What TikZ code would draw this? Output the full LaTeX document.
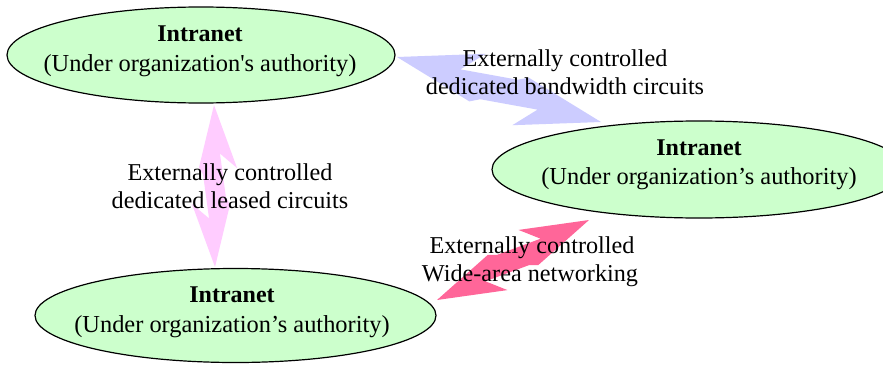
\documentclass[tikz,border=0pt]{standalone}
\usepackage{fontspec}
\setmainfont{Liberation Serif}
\usetikzlibrary{calc,shapes.geometric}
\definecolor{ellfill}{HTML}{CCFFCC}
\definecolor{zzblue}{HTML}{CCCCFF}
\definecolor{zzpink}{HTML}{FFCCFF}
\definecolor{zzred}{HTML}{FF6699}
\newcommand{\zigarrow}[4]{%
  \pgfmathsetmacro{\zzUa}{#4*13.86}%
  \pgfmathsetmacro{\zzNa}{#4*9.25}%
  \pgfmathsetmacro{\zzIa}{#4*2.86}%
  \pgfmathsetmacro{\zzUb}{#4*12.93}%
  \pgfmathsetmacro{\zzLb}{#4*(-8.78)}%
  \pgfmathsetmacro{\zzNb}{#4*(-7.00)}%
  \pgfmathsetmacro{\zzIb}{#4*(-6.65)}%
  \pgfmathsetmacro{\zzLa}{#4*(-19.75)}%
  \fill[#3] (#1) -- ($(#1)!0.39655!\zzUa:(#2)$) -- ($(#1)!0.43566!\zzNa:(#2)$)
    -- ($(#1)!0.70087!\zzIa:(#2)$) -- ($(#1)!0.62586!\zzUb:(#2)$) -- (#2)
    -- ($(#1)!0.6223!\zzLb:(#2)$) -- ($(#1)!0.57428!\zzNb:(#2)$)
    -- ($(#1)!0.30204!\zzIb:(#2)$) -- ($(#1)!0.41437!\zzLa:(#2)$) -- cycle;
}
\tikzset{
  ellbox/.style={ellipse, draw=black, fill=ellfill, line width=1.2pt, inner sep=0pt},
  titletext/.style={inner sep=0pt, anchor=base, font=\fontsize{24}{24}\selectfont\bfseries},
  subtext/.style={inner sep=0pt, anchor=base, font=\fontsize{24.4}{24.4}\selectfont},
  lbltext/.style={inner sep=0pt, anchor=base, font=\fontsize{24.2}{24.2}\selectfont},
}
\begin{document}
\begin{tikzpicture}[x=1pt,y=-1pt]
\useasboundingbox (0,0) rectangle (883,364);
\clip (0,0) rectangle (883,364);
\fill[white] (0,0) rectangle (883,364);
% ellipses
\node[ellbox, minimum width=388pt, minimum height=96pt] (e1) at (201,55) {};
\node[ellbox, minimum width=414pt, minimum height=97pt] (e2) at (699,169.5) {};
\node[ellbox, minimum width=401pt, minimum height=94pt] (e3) at (235.5,315.5) {};
% arrow tips
\coordinate (b1) at (397,57);
\coordinate (b2) at (601,122);
\coordinate (p1) at (214,105);
\coordinate (p2) at (215,267);
\coordinate (r1) at (437,300);
\coordinate (r2) at (589,220);
\zigarrow{b1}{b2}{zzblue}{-1}
\zigarrow{p1}{p2}{zzpink}{-1}
\zigarrow{r1}{r2}{zzred}{1}
% labels
\node[lbltext] (lb1) at (565,66) {Externally controlled};
\node[lbltext] (lb2) at (565,94) {dedicated bandwidth circuits};
\node[lbltext] (lp1) at (230,180) {Externally controlled};
\node[lbltext] (lp2) at (230,208) {dedicated leased circuits};
\node[lbltext] (lr1) at (532,253) {Externally controlled};
\node[lbltext] (lr2) at (530,281) {Wide-area networking};
% ellipse texts
\node[titletext] (t1) at (200,41) {Intranet};
\node[subtext] (s1) at (200,71) {(Under organization\textquotesingle s authority)};
\node[titletext] (t2) at (699,155) {Intranet};
\node[subtext] (s2) at (699,184) {(Under organization’s authority)};
\node[titletext] (t3) at (232,302) {Intranet};
\node[subtext] (s3) at (232,332) {(Under organization’s authority)};
\end{tikzpicture}
\end{document}
